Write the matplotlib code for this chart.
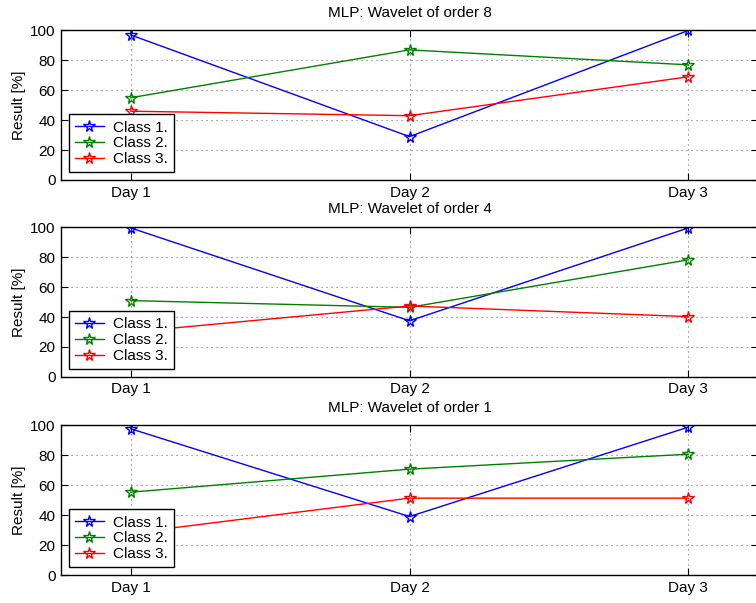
import matplotlib
matplotlib.use("Agg")
import matplotlib.pyplot as plt

plt.rcParams['font.family'] = ['Liberation Sans', 'DejaVu Sans']

days = [1, 2, 3]
day_labels = ["Day 1", "Day 2", "Day 3"]
class_names = ["Class 1.", "Class 2.", "Class 3."]
class_colors = ["#0000ff", "#008000", "#ff0000"]

# valores (orden 8, 4, 1)
titles = ["MLP: Wavelet of order 8", "MLP: Wavelet of order 4", "MLP: Wavelet of order 1"]
order8 = [[97, 29, 100], [55, 87, 77], [46, 43, 69]]
order4 = [[99.6, 37.5, 99.6], [51, 46.5, 78.3], [30, 47.4, 40.3]]
order1 = [[97.8, 39.1, 98.9], [55.4, 70.8, 80.8], [28, 51.4, 51.4]]
all_data = [order8, order4, order1]

fig = plt.figure(figsize=(7.56, 6.03), dpi=100)

# posiciones de los ejes (fracciones de la figura)
bottoms = [0.7015, 0.375, 0.0464]
for i in range(3):
    ax = fig.add_axes([0.0807, bottoms[i], 0.922, 0.248])
    for serie, nombre, color in zip(all_data[i], class_names, class_colors):
        ax.plot(days, serie, color=color, linewidth=1.0, marker="*",
                markersize=8.5, markerfacecolor="none", markeredgecolor=color,
                markeredgewidth=1.0, label=nombre)
    ax.set_xlim(0.75, 3.25)
    ax.set_ylim(0, 100)
    ax.set_xticks(days)
    ax.set_xticklabels(day_labels)
    ax.set_yticks([0, 20, 40, 60, 80, 100])
    ax.tick_params(direction="in", length=5, top=True, right=True,
                   labelsize=11, colors="black", pad=4)
    ax.grid(True, linestyle=(0, (1, 3.5)), color="#707070", linewidth=0.8)
    for s in ax.spines.values():
        s.set_linewidth(1.0)
        s.set_color("black")
    ax.set_title(titles[i], fontsize=11, pad=10)
    ax.set_ylabel("Result [%]", fontsize=11, labelpad=3)
    leg = ax.legend(loc="lower left", fontsize=11, fancybox=False,
                    edgecolor="black", framealpha=1, borderaxespad=0.5,
                    handlelength=1.9, handletextpad=0.6, labelspacing=0.12,
                    borderpad=0.4)
    leg.get_frame().set_linewidth(1.0)

fig.savefig("out.png", dpi=100)
